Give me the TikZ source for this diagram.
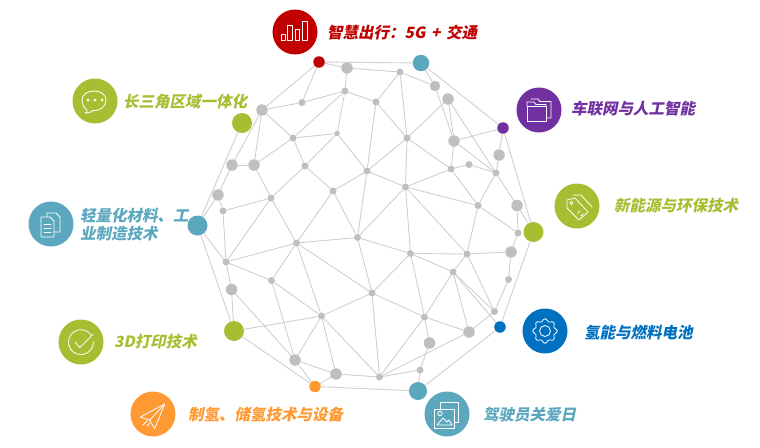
\documentclass[tikz,border=0pt]{standalone}
\usepackage{fontspec}
\usetikzlibrary{backgrounds}
\newfontfamily\cjkfont[FakeSlant=0.2]{Noto Sans CJK SC}
\definecolor{cred}{HTML}{C00000}
\definecolor{cteal}{HTML}{5BA8BE}
\definecolor{cgreen}{HTML}{A9BD33}
\definecolor{cpurple}{HTML}{7030A0}
\definecolor{cblue}{HTML}{0070C0}
\definecolor{corange}{HTML}{FF9933}
\definecolor{cnode}{HTML}{BFBFBF}
\definecolor{cedge}{HTML}{CFCFCF}
\tikzset{
  dotbase/.style={circle,inner sep=0pt,outer sep=0pt},
  sm/.style={dotbase,fill=cnode,minimum size=7pt},
  tiny/.style={dotbase,fill=cnode,minimum size=5.5pt},
  mid/.style={dotbase,fill=cnode,minimum size=9pt},
  bg/.style={dotbase,fill=cnode,minimum size=11.5pt},
  hub/.style={dotbase,fill=#1,minimum size=20pt},
  hubm/.style={dotbase,fill=#1,minimum size=16.5pt},
  hubs/.style={dotbase,fill=#1,minimum size=11.5pt},
  icon/.style={dotbase,fill=#1,minimum size=45pt},
  edge/.style={draw=cedge,line width=0.9pt},
  lab/.style={anchor=west,inner sep=0pt,yshift=-0.7pt,text=#1,align=left,font=\cjkfont\bfseries\fontsize{15.5}{18.5}\selectfont},
  ic/.style={draw=white,line width=0.8pt,line join=round,line cap=round}
}
\begin{document}
\begin{tikzpicture}[x=1pt,y=-1pt]
\useasboundingbox (0,0) rectangle (760,447);
% coloured hubs
\node[hubs=cred] (red) at (319,62) {};
\node[hubm=cteal] (teala) at (421,63) {};
\node[hubs=cpurple] (purp) at (503,128) {};
\node[hub=cgreen] (grna) at (533.5,232) {};
\node[hubs=cblue] (blu) at (500,327) {};
\node[hub=cteal,minimum size=18pt] (tealb) at (418,391) {};
\node[hubs=corange] (org) at (315,386.5) {};
\node[hub=cgreen] (grnb) at (234,331) {};
\node[hub=cteal] (tealc) at (197.5,225.5) {};
\node[hub=cgreen] (grnc) at (242,123) {};
% grey nodes
\node[bg] (p347) at (347,68) {};
\node[sm] (p345) at (345,91) {};
\node[sm] (p302) at (302,102.5) {};
\node[bg] (p262) at (262,110) {};
\node[sm] (p293) at (293,138) {};
\node[tiny] (p337) at (337,133.5) {};
\node[sm] (p305) at (305,166) {};
\node[bg] (p254) at (254,165) {};
\node[bg] (p232) at (232,165) {};
\node[sm] (p367) at (367,171) {};
\node[sm] (p333) at (333,191) {};
\node[sm] (p271) at (271,198) {};
\node[bg] (p218) at (218,195) {};
\node[sm] (p223) at (223,211) {};
\node[sm] (p400) at (400,72) {};
\node[mid,minimum size=10.5pt] (p435) at (435,86) {};
\node[bg] (p448) at (448,99) {};
\node[sm] (p376) at (376,102) {};
\node[sm] (p407) at (407,138) {};
\node[bg] (p454) at (454,141) {};
\node[bg] (p499) at (499,155) {};
\node[sm] (p451) at (451,169) {};
\node[sm] (p469) at (469,164.5) {};
\node[sm] (p496) at (496,173) {};
\node[sm] (p405) at (405.5,187) {};
\node[sm] (p478) at (478,205.5) {};
\node[bg] (p517) at (517,205.5) {};
\node[sm] (p226) at (226,262) {};
\node[sm] (p296) at (296.5,243) {};
\node[sm] (p357) at (357.5,237.5) {};
\node[sm] (q271) at (271.5,280.5) {};
\node[bg] (p231) at (231.5,289.5) {};
\node[sm] (p321) at (321.5,316) {};
\node[bg] (p295) at (295,360) {};
\node[bg] (p336) at (336,374) {};
\node[sm] (p518) at (518,233) {};
\node[bg] (p511) at (511,252) {};
\node[sm] (p410) at (410.5,253.5) {};
\node[sm] (p467) at (467,254) {};
\node[sm] (p453) at (453,272) {};
\node[sm] (p508) at (508.5,279.5) {};
\node[sm] (p372) at (372,293) {};
\node[sm] (p494) at (494.5,311.5) {};
\node[sm] (p424) at (424.5,317) {};
\node[bg] (q469) at (469,332) {};
\node[bg] (p429) at (429.5,343) {};
\node[sm] (p420) at (420,370) {};
\node[sm] (p379) at (379.5,377) {};
\begin{pgfonlayer}{background}
\foreach \a/\b in {red/p347,red/teala,red/p302,red/p262,p347/p345,p347/p400,p262/p302,p302/p345,p262/p293,p293/p345,p293/p337,p345/p376,p262/p254,p262/p232,p254/p232,p232/p218,p218/tealc,grnc/tealc,p254/p293,p254/p271,p293/p305,p337/p305,p337/p367,p305/p333,p305/p271,p333/p367,p345/p337,p218/p223,p223/p271,p271/p226,p271/p296,p223/p226,p367/p376,p333/p296,p333/p357,p357/p367,
p367/p405,p367/p407,p400/p376,p400/p407,p400/p435,teala/p435,teala/purp,p376/p407,p407/p448,p407/p405,p407/p451,p435/p454,p448/p454,p448/p496,p454/purp,p454/p451,p454/p496,purp/p499,p499/p496,purp/grna,p451/p405,p451/p469,p469/p496,p451/p478,p496/p478,p405/p478,p496/p517,p517/grna,p517/p518,p478/p467,p478/p518,p405/p357,p405/p410,p405/p467,
tealc/p226,tealc/grnb,p226/p296,p226/q271,p226/p231,p231/grnb,p231/p295,grnb/p321,grnb/org,q271/p296,q271/p321,q271/p295,p296/p357,p296/p321,p296/p372,p321/p372,p321/p295,p321/p336,p321/p379,p295/p336,p295/org,org/p336,p336/p379,org/tealb,p357/p372,p357/p410,p372/p410,p372/p424,p372/p379,p410/p467,p410/p453,p410/p424,p467/p511,p467/p453,p467/p494,p453/p424,p453/q469,p453/p494,p453/blu,p511/p508,p508/p494,p518/p511,grna/blu,blu/tealb,p494/q469,p424/q469,p424/p429,p429/p420,q469/p379,p424/p379,p420/p379,p420/tealb}
  \draw[edge] (\a) -- (\b);
\end{pgfonlayer}
% icon discs
\node[icon=cred] (ia) at (295,32) {};
\node[icon=cgreen] (ib) at (95,101) {};
\node[icon=cteal] (ic) at (51,224) {};
\node[icon=cgreen] (id) at (81,342) {};
\node[icon=corange] (ie) at (153,414) {};
\node[icon=cteal] (if) at (447,414) {};
\node[icon=cblue] (ig) at (545,331) {};
\node[icon=cgreen] (ih) at (577,206) {};
\node[icon=cpurple] (ii) at (539,110) {};
% labels
\node[lab=cred] (la) at (327,32) {智慧出行：5G\hspace{2pt} +\hspace{2pt} 交通};
\node[lab=cgreen] (lb) at (123,101) {长三角区域一体化};
\node[lab=cteal] (lc) at (80,224) {轻量化材料、工\\业制造技术};
\node[lab=cgreen] (ld) at (114,341) {3D打印技术};
\node[lab=corange] (le) at (188,414) {制氢、储氢技术与设备};
\node[lab=cteal] (lf) at (483,414) {驾驶员关爱日};
\node[lab=cblue] (lg) at (584,332) {氢能与燃料电池};
\node[lab=cgreen] (lh) at (614,205) {新能源与环保技术};
\node[lab=cpurple] (li) at (571,108) {车联网与人工智能};
% bars
\begin{scope}[shift={(295,32)}]
\draw[ic] (-14,2) rectangle (-10,8) (-7.3,-7) rectangle (-2.7,8) (0.3,-2.3) rectangle (4.7,8) (7.3,-10.7) rectangle (12,8);
\end{scope}
% chat
\begin{scope}[shift={(95,101)}]
\draw[ic] (-8,9) .. controls (-7.5,11) and (-8.5,12) .. (-10,12) .. controls (-7,12.5) and (-4,11.5) .. (-2,9.5) .. controls (6,10) and (11,5) .. (11,-1) .. controls (11,-7) and (5,-10) .. (-1,-10) .. controls (-8,-10) and (-13,-6) .. (-13,-1) .. controls (-13,3) and (-11,7) .. (-8,9) -- cycle;
\fill[white] (-7,-1) circle (1.5) (0,-1) circle (1.5) (7,-1) circle (1.5);
\end{scope}
% document
\begin{scope}[shift={(51,224)}]
\draw[ic] (-4,-7) -- (-4,-11) -- (5,-11) -- (9,-7) -- (9,8) -- (3,8);
\draw[ic] (-10,-7) -- (-1,-7) -- (3,-3) -- (3,13) -- (-10,13) -- cycle;
\draw[ic] (-7,0) -- (0,0) (-7,4) -- (0,4) (-7,8) -- (0,8);
\end{scope}
% check
\begin{scope}[shift={(81,342)}]
\draw[ic] (10.5,-6.5) arc (-32:-392+30:12.5);
\draw[ic] (-6,0) -- (-1.3,5.6) -- (12,-7.6);
\end{scope}
% plane
\begin{scope}[shift={(153,414)}]
\draw[ic] (11.7,-10) -- (-12.7,3) -- (-3.3,6.3) -- (1.7,14.7) -- cycle;
\draw[ic] (11.7,-10) -- (-3.3,6.3);
\draw[ic] (-10,11) -- (-6,7) (-6,12) -- (-3,9);
\end{scope}
% picture
\begin{scope}[shift={(447,414)}]
\draw[ic] (-7,-5) -- (-7,-12) -- (11,-12) -- (11,8) -- (7,8);
\draw[ic] (-13,-5) rectangle (7,14);
\draw[ic] (-7,-0.5) circle (2.2);
\draw[ic] (-10,11) -- (-4,4) -- (0,8) -- (2,6) -- (5,11) -- cycle;
\end{scope}
% gear
\begin{scope}[shift={(545,331)}]
\draw[ic] plot[smooth cycle,domain=0:352.5,samples=48] ({(11+1.3*cos(8*\x))*cos(\x)},{(11+1.3*cos(8*\x))*sin(\x)});
\draw[ic] (0,0) circle (5.5);
\end{scope}
% tag
\begin{scope}[shift={(577,206)}]
\draw[ic] (-10,-6) -- (-2,-8) -- (11,6) -- (2,14) -- (-10,2) -- cycle;
\draw[ic] (-4,-11) -- (4,-11) -- (15,1);
\draw[ic] (-5.5,-3) circle (1.6);
\draw[ic] (1,7) -- (3,5) (4,10) -- (6,8);
\end{scope}
% folder
\begin{scope}[shift={(539,110)}]
\draw[ic] (-12,11) rectangle (7,-4);
\draw[ic] (-12,-4) -- (-12,-8) -- (-5,-8) -- (-3,-5.5) -- (7,-5.5) -- (7,-4);
\draw[ic] (-8,-11) -- (-1,-11) -- (1,-8.5) -- (12,-8.5) -- (12,8) -- (7,8);
\end{scope}
\end{tikzpicture}
\end{document}
